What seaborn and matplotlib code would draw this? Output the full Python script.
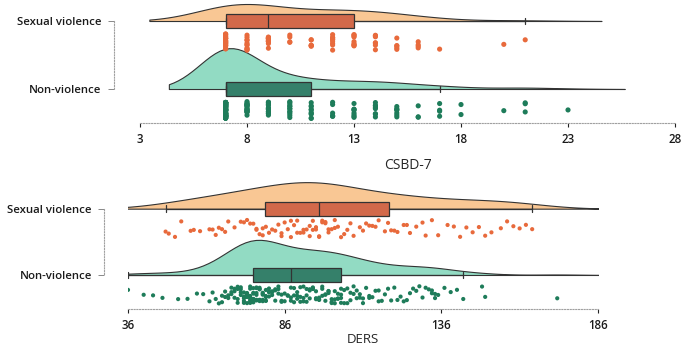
import numpy as np
import pandas as pd
import matplotlib
matplotlib.use("Agg")
import matplotlib.pyplot as plt
import seaborn as sns
from matplotlib.transforms import Affine2D

groups = ["Sexual violence", "Non-violence"]

# CSBD-7 scores (integer levels and how many respondents sit on each)
csbd_sv_levels = [7, 8, 9, 10, 11, 12, 13, 14, 15, 16, 17, 20, 21]
csbd_sv_counts = [27, 11, 13, 4, 6, 9, 9, 7, 5, 4, 1, 1, 1]
csbd_nv_levels = [7, 8, 9, 10, 11, 12, 13, 14, 15, 16, 17, 18, 20, 21, 23]
csbd_nv_counts = [104, 17, 14, 12, 10, 6, 8, 8, 7, 3, 4, 2, 1, 3, 1]

# DERS scores
ders_sv = [48, 49, 51, 53, 56, 57, 59, 62, 63, 64, 65, 66, 67, 68, 70, 72, 73, 74, 75, 76,
           77, 77, 78, 79, 79, 80, 81, 82, 83, 84, 85, 85, 86, 87, 88, 88, 89, 90, 90, 91,
           92, 92, 93, 94, 94, 95, 95, 96, 96, 97, 97, 98, 98, 99, 99, 100, 100, 101, 102, 102,
           103, 104, 105, 106, 107, 108, 110, 111, 112, 113, 114, 115, 116, 118, 119, 120, 121, 122, 124, 125,
           126, 128, 130, 131, 133, 135, 138, 140, 142, 144, 146, 148, 150, 152, 155, 157, 159, 161, 163, 165]
ders_nv = [36, 41, 44, 47, 52, 55, 58, 60, 62, 63, 64, 65, 66, 66, 67, 67, 68, 68, 69, 69,
           69, 70, 70, 70, 71, 71, 71, 71, 72, 72, 72, 72, 73, 73, 73, 73, 73, 74, 74, 74,
           74, 74, 74, 75, 75, 75, 75, 75, 75, 75, 76, 76, 76, 76, 76, 76, 77, 77, 77, 77,
           77, 77, 78, 78, 78, 78, 78, 78, 79, 79, 79, 79, 79, 80, 80, 80, 80, 80, 81, 81,
           81, 81, 82, 82, 82, 82, 83, 83, 83, 84, 84, 84, 85, 85, 85, 86, 86, 87, 87, 88,
           88, 88, 89, 89, 89, 90, 90, 90, 91, 91, 91, 92, 92, 92, 93, 93, 93, 94, 94, 94,
           95, 95, 95, 96, 96, 96, 97, 97, 97, 98, 98, 98, 99, 99, 99, 100, 100, 100, 101, 101,
           101, 102, 102, 102, 103, 103, 103, 104, 104, 104, 104, 105, 105, 106, 106, 107, 107, 108, 108, 109,
           109, 110, 110, 111, 111, 112, 113, 113, 114, 115, 116, 116, 117, 118, 119, 120, 121, 122, 123, 124,
           125, 126, 127, 128, 129, 130, 131, 132, 133, 133, 134, 134, 135, 137, 139, 141, 143, 149, 150, 173]

csbd_ticks = [3, 8, 13, 18, 23, 28]
ders_ticks = [36, 86, 136, 186]

cloud_colors = {"Sexual violence": "#f9c794", "Non-violence": "#92dbc3"}
box_colors = {"Sexual violence": "#d2694a", "Non-violence": "#35806a"}
rain_colors = {"Sexual violence": "#e86a3c", "Non-violence": "#1e7c5a"}
edge = "#333333"

csbd = pd.DataFrame({
    "group": ["Sexual violence"] * sum(csbd_sv_counts) + ["Non-violence"] * sum(csbd_nv_counts),
    "score": np.concatenate([np.repeat(csbd_sv_levels, csbd_sv_counts),
                             np.repeat(csbd_nv_levels, csbd_nv_counts)]),
})
ders = pd.DataFrame({
    "group": ["Sexual violence"] * len(ders_sv) + ["Non-violence"] * len(ders_nv),
    "score": ders_sv + ders_nv,
})

sns.set_style("ticks")
plt.rcParams["font.family"] = ["Open Sans", "DejaVu Sans"]
plt.rcParams["font.weight"] = "semibold"
np.random.seed(3)


def raincloud(ax, df, cloud_widths, bw_adjusts, box_width, rain_shift, jitter, dot_size):
    # half violins as the clouds, one call per group so each gets its own height
    for g, w, bw in zip(groups, cloud_widths, bw_adjusts):
        n0 = len(ax.collections)
        sns.violinplot(data=df[df["group"] == g], x="score", y="group", order=groups,
                       split=True, inner=None, density_norm="width", width=w,
                       bw_adjust=bw, cut=2, color=cloud_colors[g], saturation=1,
                       linecolor=edge, linewidth=0.8, ax=ax)
        # split half sits w/2 off the category line; put its flat side on it
        lift = Affine2D().translate(0, -w / 2) + ax.transData
        for coll in ax.collections[n0:]:
            coll.set_transform(lift)
    sns.boxplot(data=df, x="score", y="group", order=groups, hue="group", hue_order=groups,
                palette=box_colors, saturation=1, width=box_width, showfliers=False,
                linecolor=edge, linewidth=0.9, legend=False, ax=ax)
    n0 = len(ax.collections)
    sns.stripplot(data=df, x="score", y="group", order=groups, hue="group", hue_order=groups,
                  palette=rain_colors, jitter=jitter, size=dot_size, linewidth=0,
                  legend=False, ax=ax)
    # move the rain just under the boxes
    shift = Affine2D().translate(0, rain_shift) + ax.transData
    for coll in ax.collections[n0:]:
        coll.set_offset_transform(shift)


def style_axes(ax, left_offset):
    ax.set_ylabel("")
    sns.despine(ax=ax, offset={"left": left_offset}, trim=True)
    for side in ["left", "bottom"]:
        ax.spines[side].set_color("#a0a0a0")
        ax.spines[side].set_linestyle((0, (1, 1.5)))
        ax.spines[side].set_linewidth(0.8)
    ax.tick_params(axis="x", length=3, width=0.8, color="#222222", labelsize=8.3,
                   pad=4, labelcolor="#1a1a1a")
    ax.tick_params(axis="y", length=4, width=0.7, color="#888888", labelsize=8.2,
                   pad=5, labelcolor="#1a1a1a")


fig = plt.figure(figsize=(6.83, 3.47), dpi=100)

ax1 = fig.add_axes([0.205, 0.6455, 0.7833, 0.3545])
raincloud(ax1, csbd, cloud_widths=[0.25, 0.6], bw_adjusts=[1.35, 1.1], box_width=0.2,
          rain_shift=0.31, jitter=0.125, dot_size=3.7)
ax1.set_xlim(3, 28)
ax1.set_xticks(csbd_ticks)
ax1.set_ylim(1.5, -0.309)
ax1.set_xlabel("CSBD-7", fontsize=10, fontweight="normal", labelpad=9)
style_axes(ax1, 19)

ax2 = fig.add_axes([0.1874, 0.1095, 0.6881, 0.3862])
raincloud(ax2, ders, cloud_widths=[0.4, 0.53], bw_adjusts=[1.0, 0.95], box_width=0.21,
          rain_shift=0.3, jitter=0.13, dot_size=3.0)
ax2.set_xlim(36, 186)
ax2.set_xticks(ders_ticks)
ax2.set_ylim(1.513, -0.508)
ax2.set_xlabel("DERS", fontsize=9.5, fontweight="normal", labelpad=1)
style_axes(ax2, 17)

fig.savefig("out.png", dpi=100)
